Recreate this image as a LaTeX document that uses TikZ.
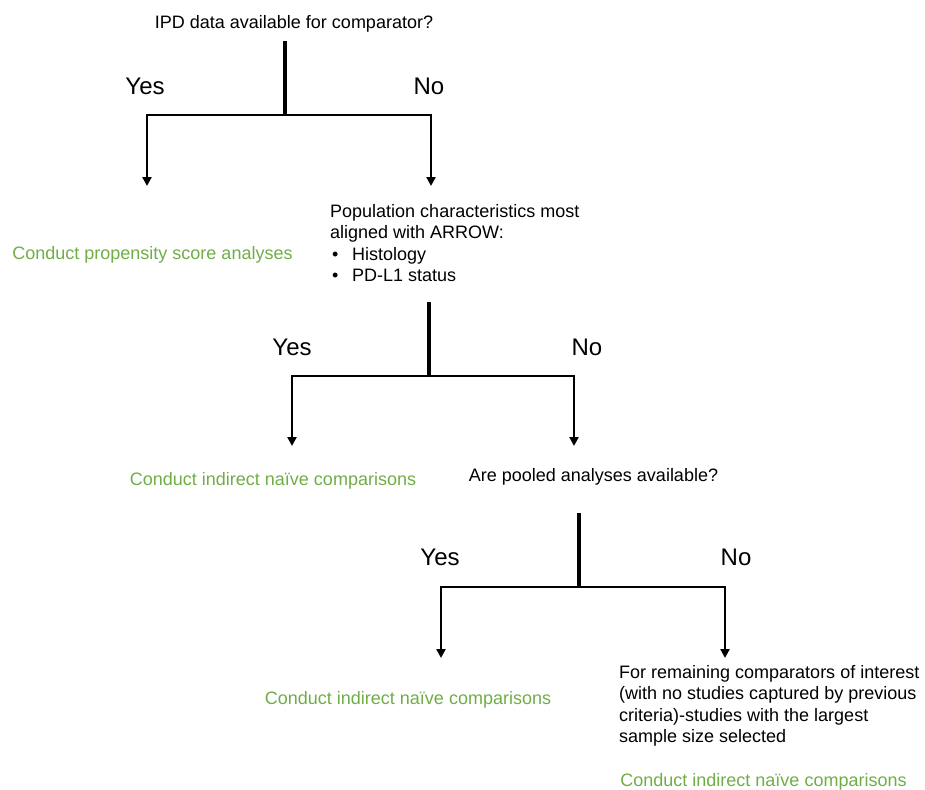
\documentclass[tikz,border=0pt]{standalone}
\usepackage{fontspec}
\setmainfont{Liberation Sans}
\usetikzlibrary{arrows.meta}
\definecolor{pgreen}{HTML}{70AD47}
\begin{document}
\begin{tikzpicture}[x=1pt,y=-1pt,
  txt/.style={inner sep=0pt,font=\fontsize{18}{21.5}\selectfont},
  gtxt/.style={txt,text=pgreen},
  yn/.style={inner sep=0pt,font=\fontsize{24}{28}\selectfont},
  stem/.style={line width=3.8pt},
  branch/.style={line width=2.8pt,{Triangle[width=9pt,length=9pt]}-{Triangle[width=9pt,length=9pt]}},
  blk/.style={txt,align=left,anchor=north west}]
\useasboundingbox (0,0) rectangle (925,789);
% level 1
\node[txt] (q1) at (294,24) {IPD data available for comparator?};
\node[yn] (yes1) at (145,86) {Yes};
\node[yn] (no1) at (429,86) {No};
\coordinate (s1) at (285,41);
\coordinate (j1) at (285,115);
\coordinate (lc1) at (147,115);
\coordinate (rc1) at (431,115);
\coordinate (le1) at (147,186);
\coordinate (re1) at (431,186);
\draw[stem] (s1) -- (j1);
\draw[branch] (le1) -- (lc1) -- (rc1) -- (re1);
\node[gtxt] (g1) at (152.5,255) {Conduct propensity score analyses};
\node[blk] (pop) at (330,204) {Population characteristics most\\aligned with ARROW:\\\makebox[22pt][l]{\hspace{2pt}•}Histology\\\makebox[22pt][l]{\hspace{2pt}•}PD-L1 status};
% level 2
\node[yn] (yes2) at (292,347) {Yes};
\node[yn] (no2) at (587,347) {No};
\coordinate (s2) at (429,302);
\coordinate (j2) at (429,376);
\coordinate (lc2) at (292,376);
\coordinate (rc2) at (574,376);
\coordinate (le2) at (292,446);
\coordinate (re2) at (574,446);
\draw[stem] (s2) -- (j2);
\draw[branch] (le2) -- (lc2) -- (rc2) -- (re2);
\node[gtxt] (g2) at (273,481) {Conduct indirect naïve comparisons};
\node[txt] (q3) at (593.5,477) {Are pooled analyses available?};
% level 3
\node[yn] (yes3) at (440,557) {Yes};
\node[yn] (no3) at (736,557) {No};
\coordinate (s3) at (579,513);
\coordinate (j3) at (579,587);
\coordinate (lc3) at (441,587);
\coordinate (rc3) at (725,587);
\coordinate (le3) at (441,658);
\coordinate (re3) at (725,658);
\draw[stem] (s3) -- (j3);
\draw[branch] (le3) -- (lc3) -- (rc3) -- (re3);
\node[gtxt] (g3) at (408,700) {Conduct indirect naïve comparisons};
\node[blk] (rem) at (619,665) {For remaining comparators of interest\\(with no studies captured by previous\\criteria)-studies with the largest\\sample size selected};
\node[gtxt] (g4) at (763.5,782) {Conduct indirect naïve comparisons};
\end{tikzpicture}
\end{document}
